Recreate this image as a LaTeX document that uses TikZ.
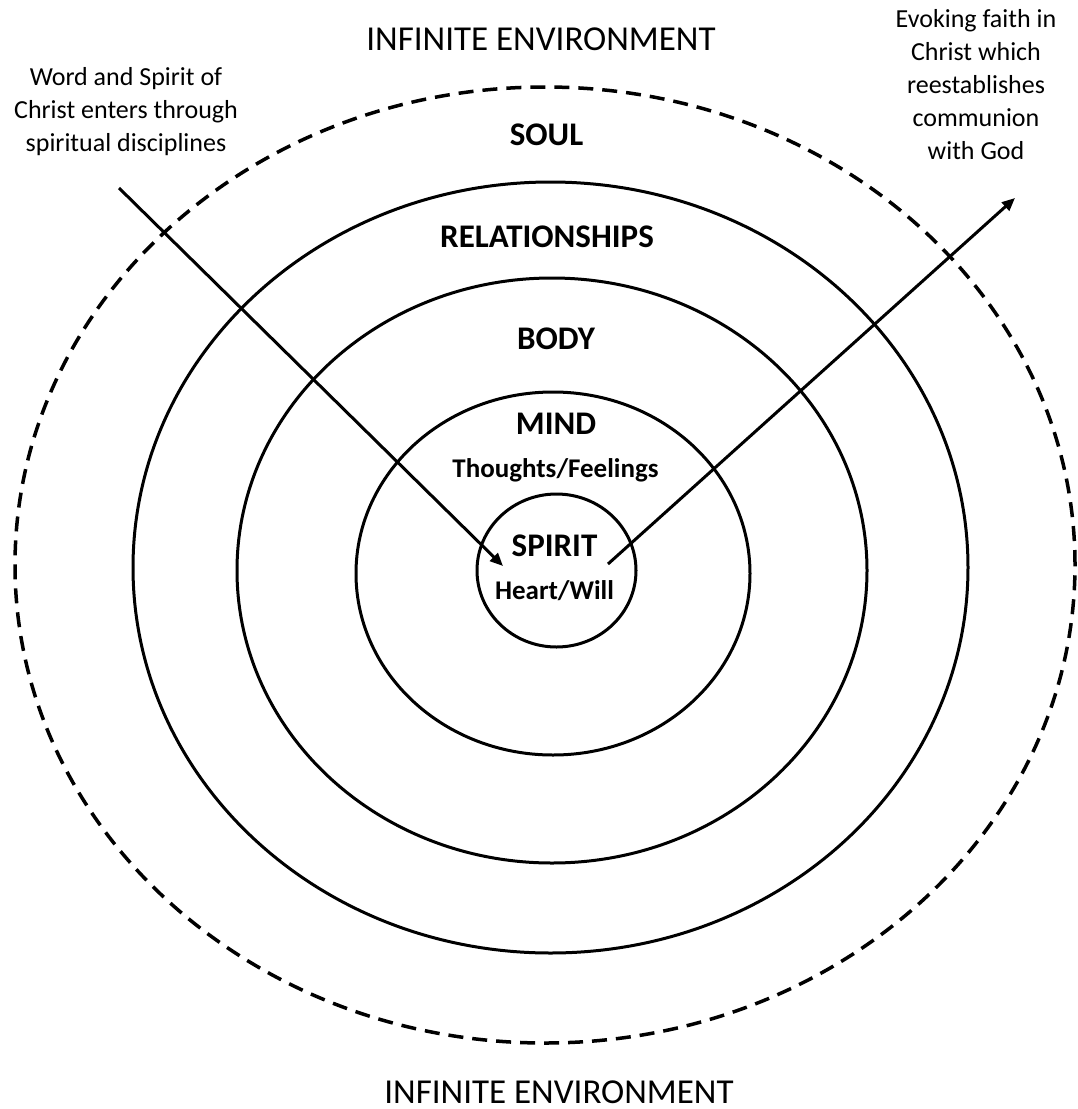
\documentclass[tikz,border=0pt]{standalone}
\usepackage{fontspec}
\setmainfont{Carlito}
\usetikzlibrary{shapes.geometric,arrows.meta}
\begin{document}
\begin{tikzpicture}[x=1pt,y=-1pt,
  ring/.style={draw, ellipse, line width=3pt, inner sep=0pt, outer sep=0pt},
  envring/.style={draw, ellipse, line width=3.5pt, dash pattern=on 15pt off 9pt, inner sep=0pt, outer sep=0pt},
  lbl/.style={font=\fontsize{33}{40}\selectfont\bfseries, anchor=base, inner sep=0pt},
  sublbl/.style={font=\fontsize{27}{32}\selectfont\bfseries, anchor=base, inner sep=0pt},
  envlbl/.style={font=\fontsize{35}{42}\selectfont, anchor=base, inner sep=0pt},
  note/.style={font=\fontsize{26}{33}\selectfont, align=center, inner sep=0pt},
  flow/.style={line width=3pt, -{Triangle[length=13pt,width=11pt]}}]
\path[use as bounding box, fill=white] (0,0) rectangle (1077,1109);

% rings
\node[envring, minimum width=1060pt, minimum height=956pt] (soulring) at (545,565) {};
\node[ring, minimum width=835pt, minimum height=771pt] (relring) at (550.5,567.5) {};
\node[ring, minimum width=630pt, minimum height=585pt] (bodyring) at (552,570.5) {};
\node[ring, minimum width=394pt, minimum height=363pt] (mindring) at (553,573.5) {};
\node[ring, minimum width=159pt, minimum height=153pt] (spiritring) at (556.5,570.5) {};

% labels
\node[envlbl] (envtop) at (541,50) {INFINITE ENVIRONMENT};
\node[envlbl] (envbot) at (559,1103) {INFINITE ENVIRONMENT};
\node[lbl] (soul) at (546.5,145) {SOUL};
\node[lbl] (rel) at (547,247) {RELATIONSHIPS};
\node[lbl] (body) at (556,349) {BODY};
\node[lbl] (mind) at (556,434) {MIND};
\node[sublbl] (thoughts) at (555.5,477) {Thoughts/Feelings};
\node[lbl] (spirit) at (554.5,556) {SPIRIT};
\node[sublbl] (heart) at (554.5,599) {Heart/Will};

\node[note] (innote) at (126,112) {Word and Spirit of\\Christ enters through\\spiritual disciplines};
\node[note] (outnote) at (976,85) {Evoking faith in\\Christ which\\reestablishes\\communion\\with God};

% arrows
\coordinate (inStart) at (119,188);
\coordinate (inEnd) at (503,566);
\coordinate (outStart) at (608,564);
\coordinate (outEnd) at (1015,198);
\draw[flow] (inStart) -- (inEnd);
\draw[flow] (outStart) -- (outEnd);
\end{tikzpicture}
\end{document}
